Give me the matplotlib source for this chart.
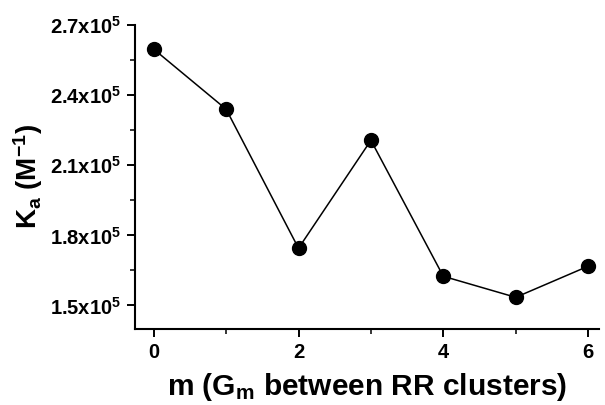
import numpy as np
import matplotlib
matplotlib.use('Agg')
import matplotlib.pyplot as plt
from matplotlib.ticker import MultipleLocator, FuncFormatter

plt.rcParams['font.family'] = ['Liberation Sans', 'DejaVu Sans']
plt.rcParams['mathtext.fontset'] = 'custom'
plt.rcParams['mathtext.rm'] = 'Liberation Sans'
plt.rcParams['mathtext.it'] = 'Liberation Sans'
plt.rcParams['mathtext.bf'] = 'Liberation Sans:bold'

m_values = [0, 1, 2, 3, 4, 5, 6]
ka_values = [2.597e5, 2.340e5, 1.745e5, 2.207e5, 1.625e5, 1.535e5, 1.668e5]


def _sci(v, pos):
    return r'$\mathbf{%.1fx10^{5}}$' % (v / 1e5)


fig = plt.figure(figsize=(6.05, 4.05), dpi=100)
ax = fig.add_axes([0.223, 0.188, 0.767, 0.750])

ax.plot(m_values, ka_values, '-', color='black', lw=1.1)
ax.plot(m_values, ka_values, 'o', color='black', ms=10)

ax.set_xlim(-0.26, 6.15)
ax.set_ylim(1.40e5, 2.70e5)

ax.xaxis.set_major_locator(MultipleLocator(2))
ax.xaxis.set_minor_locator(MultipleLocator(1))
ax.yaxis.set_major_locator(MultipleLocator(0.3e5))
ax.yaxis.set_minor_locator(MultipleLocator(0.15e5))
ax.yaxis.set_major_formatter(FuncFormatter(_sci))

for side in ['top', 'right']:
    ax.spines[side].set_visible(False)
for side in ['left', 'bottom']:
    ax.spines[side].set_linewidth(1.5)

ax.tick_params(which='major', direction='out', length=6, width=1.4, labelsize=14.5)
ax.tick_params(which='minor', direction='out', length=3.5, width=1.1)
ax.tick_params(axis='x', pad=4)
for lbl in ax.get_xticklabels():
    lbl.set_fontweight('bold')

ax.set_xlabel(r'm (G$_\mathbf{m}$ between RR clusters)', fontsize=21.5,
              fontweight='bold', labelpad=7)
ax.set_ylabel(r'K$_\mathbf{a}$ (M$^\mathbf{-1}$)', fontsize=20,
              fontweight='bold', labelpad=4)

fig.savefig('out.png', dpi=100)
